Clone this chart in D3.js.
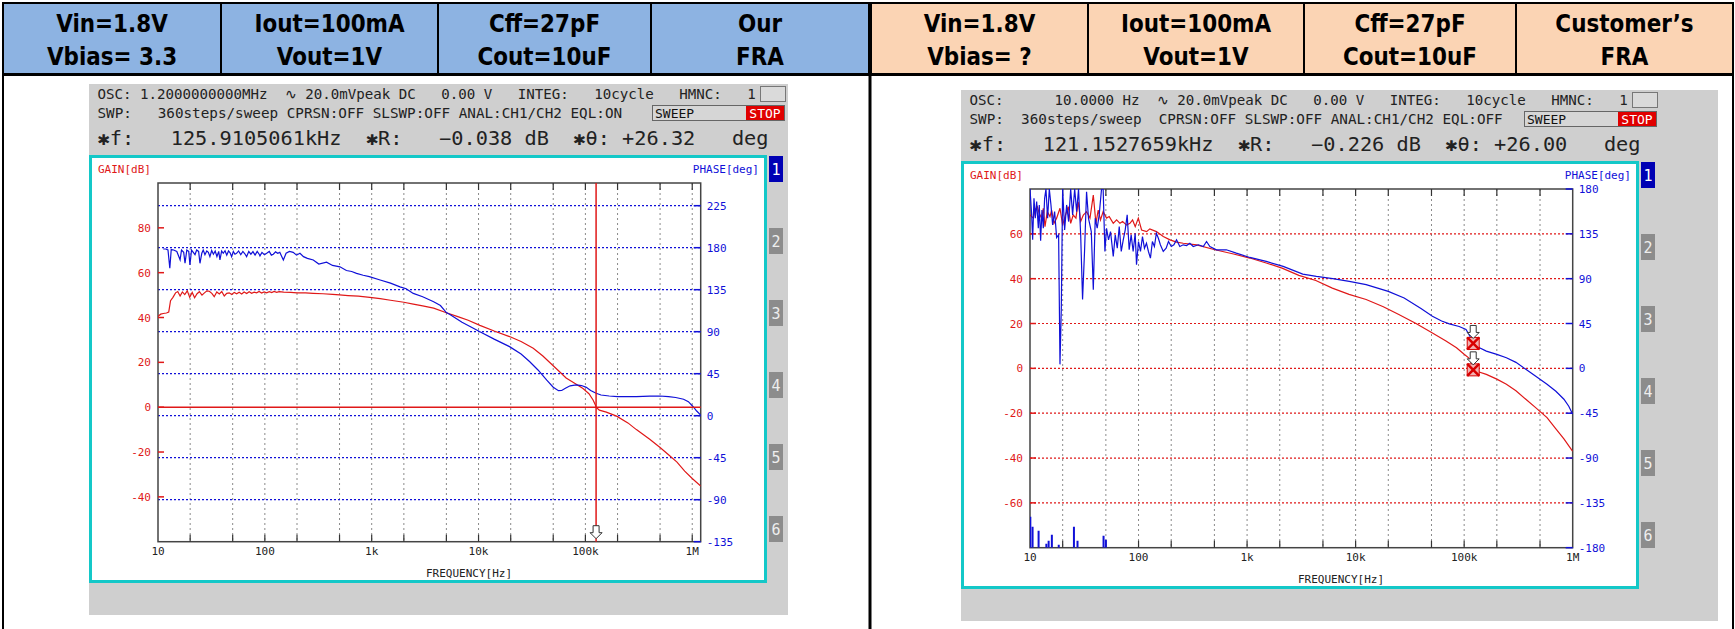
<!DOCTYPE html>
<html lang="en">
<head>
<meta charset="UTF-8" />
<title>FRA comparison</title>
<style>
  body { margin: 0; background: #fff; }
  svg { display: block; }
  text { font-family: "DejaVu Sans Mono", monospace; }
  .head { font-family: "DejaVu Sans", sans-serif; font-weight: bold; font-size: 25px; fill: #000; }
  .tick { font-size: 11px; }
</style>
</head>
<body>
<svg width="1735" height="629"></svg>
<script src="https://d3js.org/d3.v7.min.js"></script>
<script>
// ---------- header cells ----------
const ourHeader = [["Vin=1.8V", "Vbias= 3.3"], ["Iout=100mA", "Vout=1V"], ["Cff=27pF", "Cout=10uF"], ["Our", "FRA"]];
const custHeader = [["Vin=1.8V", "Vbias= ?"], ["Iout=100mA", "Vout=1V"], ["Cff=27pF", "Cout=10uF"], ["Customer’s", "FRA"]];

// ---------- analyser status lines ----------
const ourInfo = [
  "OSC: 1.2000000000MHz  ∿ 20.0mVpeak DC   0.00 V   INTEG:   10cycle   HMNC:   1",
  "SWP:   360steps/sweep CPRSN:OFF SLSWP:OFF ANAL:CH1/CH2 EQL:ON",
  "✱f:   125.9105061kHz  ✱R:   −0.038 dB  ✱θ: +26.32   deg"
];
const custInfo = [
  "OSC:      10.0000 Hz  ∿ 20.0mVpeak DC   0.00 V   INTEG:   10cycle   HMNC:   1",
  "SWP:  360steps/sweep  CPRSN:OFF SLSWP:OFF ANAL:CH1/CH2 EQL:OFF",
  "✱f:   121.1527659kHz  ✱R:   −0.226 dB  ✱θ: +26.00   deg"
];

// ---------- axis ticks ----------
const gridFreqs = [20, 50, 100, 200, 500, 1e3, 2e3, 5e3, 1e4, 2e4, 5e4, 1e5, 2e5, 5e5, 1e6];
const decadeFreqs = [10, 100, 1e3, 1e4, 1e5, 1e6];
const decadeLabels = ["10", "100", "1k", "10k", "100k", "1M"];
const ourGainTicks = [80, 60, 40, 20, 0, -20, -40];
const ourPhaseTicks = [225, 180, 135, 90, 45, 0, -45, -90, -135];
const custGainTicks = [60, 40, 20, 0, -20, -40, -60];
const custPhaseTicks = [180, 135, 90, 45, 0, -45, -90, -135, -180];

// ---------- our FRA: [Hz, dB] and [Hz, deg] ----------
const ourGain = [
  [10, 40.6], [10.6, 41.5], [11.2, 41.8], [12.0, 42.0], [12.6, 42.4], [13.1, 47.5], [13.8, 49.0], [14.6, 51.0],
  [15.3, 51.6], [16.1, 49.6], [16.9, 51.4], [17.8, 50.2], [18.8, 51.9], [19.8, 49.0], [20.9, 51.2], [22.0, 48.8],
  [23.2, 50.6], [24.4, 51.5], [25.8, 50.0], [27.2, 51.0], [28.7, 51.9], [30.2, 51.7], [31.9, 50.8], [33.6, 49.3],
  [35.5, 51.4], [37.5, 50.5], [39.5, 51.6], [41.7, 49.6], [44.0, 50.8], [46.4, 51.0], [49.0, 50.3], [51.7, 51.2],
  [54.5, 50.6], [57.5, 51.3], [60.7, 50.5], [64, 51.4], [67.6, 50.7], [71.3, 51.5], [75.2, 50.8], [79.4, 51.3],
  [83.8, 51.0], [88.4, 51.6], [93.3, 50.9], [98.4, 51.4], [104, 51.0], [110, 51.5], [116, 51.1], [122, 51.6],
  [129, 51.2], [136, 51.5], [150, 51.3], [175, 51.2], [200, 51.0], [240, 51.0], [283, 50.8], [350, 50.6],
  [430, 50.3], [500, 50.1], [600, 49.8], [750, 49.5], [960, 49.0], [1200, 48.4], [1500, 47.7], [2000, 46.8],
  [2450, 46.0], [3000, 45.2], [3800, 44.2], [5000, 42.1], [6500, 40.3], [8000, 38.8], [10300, 36.5], [14000, 34.0],
  [19500, 31.5], [25000, 29.3], [32500, 26.3], [40000, 22.8], [50000, 18.5], [58000, 15.6], [66000, 13.0],
  [80000, 10.6], [95000, 8.3], [108000, 6.0], [118000, 3.2], [124000, 1.0], [126000, 0.0], [135000, -1.3],
  [157000, -2.2], [196000, -4.0], [250000, -7.0], [300000, -10.0], [400000, -14.3], [500000, -18.0],
  [600000, -21.2], [720000, -24.5], [850000, -28.5], [1000000, -31.8], [1200000, -35.2]
];
const ourPhase = [
  [11.2, 178.6], [11.8, 178.6], [12.4, 177.5], [12.9, 158.0], [13.3, 178.0], [14.0, 177.5], [15.0, 176.0],
  [16.1, 167.0], [16.6, 177.5], [17.4, 175.0], [17.9, 163.3], [18.6, 177.5], [19.4, 176.0], [19.9, 161.5],
  [20.6, 177.5], [21.4, 175.0], [22.2, 172.5], [23.0, 177.5], [24.0, 176.0], [24.7, 163.3], [25.7, 174.0],
  [26.5, 177.5], [27.5, 172.5], [28.6, 176.5], [29.6, 175.0], [30.6, 170.4], [31.8, 177.0], [33.0, 173.0],
  [34.3, 176.5], [35.6, 170.5], [37.0, 176.0], [38.0, 166.8], [39.4, 176.5], [40.8, 174.0], [42.4, 176.8],
  [44.0, 172.0], [45.7, 176.5], [47.3, 174.5], [48.9, 170.4], [50.7, 176.0], [52.5, 173.0], [54.4, 174.0],
  [56.8, 176.5], [59.5, 172.5], [62.3, 176.0], [65.0, 173.5], [67.5, 170.4], [70.7, 176.0], [74.0, 173.0],
  [77.4, 175.8], [81.0, 172.0], [84.8, 176.0], [88.5, 173.0], [90.0, 171.2], [94, 175.0], [99, 172.5],
  [104, 174.0], [110, 176.0], [115, 172.0], [120, 173.0], [126, 175.5], [132, 174.0], [138, 175.0],
  [149, 166.8], [158, 174.0], [170, 176.0], [184, 175.0], [198, 172.0], [213, 174.0], [230, 170.4],
  [250, 168.5], [284, 166.8], [320, 162.5], [378, 164.5], [430, 161.0], [504, 159.5], [580, 155.5],
  [650, 154.5], [721, 152.5], [832, 150.5], [950, 149.0], [1200, 145.4], [1500, 142.0], [1840, 138.0],
  [2100, 136.0], [2450, 131.0], [3000, 127.5], [3800, 122.0], [4400, 118.0], [5000, 110.5], [5400, 108.5],
  [7000, 100.0], [8500, 95.0], [10300, 90.0], [14000, 82.0], [19500, 74.0], [25000, 66.0], [30000, 58.0],
  [36000, 49.0], [43500, 38.0], [50000, 30.5], [56000, 26.8], [60000, 27.0], [65000, 29.4], [72000, 32.0],
  [82000, 33.0], [92000, 32.3], [102000, 30.4], [112000, 27.0], [126000, 24.0], [140000, 22.2],
  [167000, 21.1], [200000, 20.5], [300000, 20.4], [400000, 21.0], [495000, 21.1], [600000, 20.5],
  [700000, 19.5], [830000, 17.6], [920000, 15.0], [1020000, 9.6], [1100000, 5.0], [1200000, 0.7]
];
const ourCursor = { f: 125910.5061, gain: -0.038, phase: 26.32 };

// ---------- customer's FRA ----------
const custGain = [
  [10, 68.4], [10.73, 67.0], [11.1, 70.6], [11.68, 72.1], [12.18, 69.1], [12.8, 67.0], [13.26, 71.4],
  [13.74, 63.2], [14.43, 69.9], [15.28, 67.7], [15.82, 70.6], [16.63, 64.7], [17.59, 67.0], [18.89, 71.4],
  [19.98, 63.9], [21.0, 67.7], [22.5, 72.1], [23.7, 64.7], [25.0, 68.4], [26.5, 67.0], [27.8, 74.3],
  [29.3, 65.5], [31.0, 68.4], [33.2, 69.9], [35.7, 67.0], [38.3, 77.3], [40.5, 64.7], [42.5, 70.6],
  [44.6, 66.2], [47.2, 69.9], [50.7, 67.0], [53.7, 67.7], [58.5, 64.7], [62.8, 66.2], [67.4, 64.7],
  [71.3, 65.5], [77.6, 63.9], [83.3, 64.7], [88.1, 66.2], [93.2, 63.2], [99.5, 67.0], [106.7, 61.7],
  [118.6, 61.0], [127, 62.2], [146, 61.0], [169, 58.8], [195, 57.3], [224, 56.3], [258, 55.8], [343, 55.1],
  [506, 52.9], [750, 51.0], [1060, 49.2], [1500, 47.0], [2100, 44.7], [3000, 41.5], [4300, 39.2],
  [6100, 35.8], [8700, 33.0], [12500, 30.7], [18000, 27.5], [25000, 24.0], [36000, 20.0], [51000, 15.8],
  [68000, 12.2], [85000, 9.2], [100000, 6.3], [110000, 4.7], [116000, 2.5], [121000, -0.2], [135000, -1.5],
  [160000, -2.7], [200000, -4.8], [245000, -7.1], [300000, -10.0], [370000, -13.8], [450000, -17.3],
  [580000, -22.0], [700000, -27.0], [830000, -31.5], [1000000, -37.0]
];
const custPhase = [
  [10.0, 180], [10.36, 154], [10.58, 129], [10.88, 170.6], [11.19, 150.6], [11.52, 167.3], [11.93, 140.6],
  [12.18, 164], [12.53, 128], [12.89, 159], [13.26, 140.6], [13.64, 170.6], [14.03, 180], [14.53, 150.6],
  [15.06, 180], [15.6, 164], [16.16, 144], [16.86, 157.3], [17.59, 131.3], [18.35, 134], [18.89, 4],
  [19.43, 60.6], [19.98, 180], [20.85, 139], [21.75, 164], [22.7, 147.3], [23.7, 180], [24.7, 154],
  [25.8, 180], [26.9, 157.3], [28.0, 180], [29.3, 134], [30.5, 69], [31.8, 117.3], [33.2, 177.3],
  [34.6, 150.6], [36.7, 137.3], [38.3, 79], [39.9, 150.6], [41.6, 140.6], [43.4, 154], [45.6, 180],
  [47.2, 180], [49.0, 117.3], [50.7, 140.6], [52.9, 129], [55.2, 137.3], [58.5, 112.3], [61.0, 134],
  [63.7, 120.6], [66.4, 142.3], [69.3, 117.3], [72.3, 129], [75.4, 139], [78.6, 154], [82.0, 119],
  [85.5, 134], [89.2, 117.3], [93.1, 135.6], [95.8, 104], [99.9, 127.3], [104.2, 117.3], [108.7, 132.3],
  [113.4, 120.6], [118.3, 125.6], [123.4, 117.3], [128.7, 110.6], [134.2, 127.3], [140, 122.3],
  [146, 135.6], [152.3, 130.6], [158.9, 124], [168.9, 117.3], [179.6, 120.6], [188.8, 127.3],
  [200.2, 122.3], [211.7, 124], [223.9, 129], [240, 122.3], [258, 124], [277, 123.3], [297, 125.6],
  [319, 122.3], [356, 124], [395, 122.3], [423, 127.3], [454, 122.3], [522, 119], [644, 119], [795, 115.6],
  [1060, 111.3], [1500, 107.3], [2150, 102.3], [3260, 94.6], [4350, 92.3], [6160, 90], [8740, 87.3],
  [12500, 84], [20000, 77.3], [28000, 70.6], [40000, 60], [51000, 52.3], [62000, 47.5], [73000, 44.6],
  [90000, 42], [104000, 39], [112000, 33], [121000, 26], [140000, 20.5], [160000, 17.3], [200000, 14],
  [245000, 10.6], [300000, 6], [370000, -1], [450000, -7.5], [580000, -16], [700000, -23], [830000, -31],
  [920000, -38], [1000000, -46]
];
// wrapped phase samples that show up as short bars above -180 deg
const custPhaseWrap = [
  [10.07, -149], [10.56, -159], [12.0, -163], [14.15, -176], [14.85, -173], [15.9, -167],
  [18.4, -177], [25.4, -159], [27.4, -173], [47.6, -168], [50.0, -172]
];
const custCursor = { f: 121152.7659, gain: -0.226, phase: 26.0 };

const RED = "#e01818", BLUE = "#1010d8";
const svg = d3.select("svg");

// ---------- table ----------
function drawHeader(cells, edges, fill) {
  cells.forEach((c, i) => {
    const x0 = edges[i], x1 = edges[i + 1];
    svg.append("rect").attr("x", x0).attr("y", 3).attr("width", x1 - x0).attr("height", 71)
      .attr("fill", fill).attr("stroke", "#000").attr("stroke-width", 2);
    c.forEach((t, j) => {
      svg.append("text").attr("class", "head")
        .attr("transform", `translate(${(x0 + x1) / 2},${j ? 65 : 32}) scale(0.86,1)`)
        .attr("text-anchor", "middle").text(t);
    });
  });
}
drawHeader(ourHeader, [3, 221, 438, 651, 869], "#8db3e2");
drawHeader(custHeader, [871, 1088, 1304, 1516, 1733], "#fbd4b4");
svg.append("line").attr("x1", 3).attr("x2", 1733).attr("y1", 74.5).attr("y2", 74.5).attr("stroke", "#000").attr("stroke-width", 3);
[3, 870, 1733].forEach(x => {
  svg.append("line").attr("x1", x).attr("x2", x).attr("y1", 3).attr("y2", 629)
    .attr("stroke", "#000").attr("stroke-width", x === 870 ? 3 : 2);
});

// ---------- one analyser screen ----------
function downArrow(g, cx, tipY) {
  g.append("path")
    .attr("d", `M${cx - 3},${tipY - 14}h6v7h3l-6,6l-6,-6h3z`)
    .attr("fill", "#fff").attr("stroke", "#333").attr("stroke-width", 1);
}

function drawPanel(cfg) {
  const g = svg.append("g").attr("transform", `translate(${cfg.ox},${cfg.oy})`);
  g.append("rect").attr("width", cfg.w).attr("height", 531).attr("fill", "#cfcfcf");

  const rows = [{ y: 15, size: 14, cw: 8.55 }, { y: 33.5, size: 14, cw: 8.6 }, { y: 60.5, size: 19, cw: 12.2 }];
  cfg.info.forEach((t, i) => {
    g.append("text").attr("x", 8.5).attr("y", rows[i].y)
      .attr("font-size", rows[i].size)
      .attr("textLength", t.length * rows[i].cw).attr("lengthAdjust", "spacingAndGlyphs")
      .attr("xml:space", "preserve").style("white-space", "pre")
      .attr("fill", "#222").text(t);
  });
  // HMNC box, SWEEP / STOP box
  g.append("rect").attr("x", 671.5).attr("y", 2.5).attr("width", 25).attr("height", 15)
    .attr("fill", "#dadada").attr("stroke", "#777");
  g.append("rect").attr("x", 563.5).attr("y", 21.5).attr("width", 132).attr("height", 15)
    .attr("fill", "#d6d6d6").attr("stroke", "#666");
  g.append("text").attr("x", 566).attr("y", 33.5).attr("font-size", 13).attr("fill", "#111").text("SWEEP");
  g.append("rect").attr("x", 657).attr("y", 22).attr("width", 38).attr("height", 14).attr("fill", "#e00000");
  g.append("text").attr("x", 676).attr("y", 33.5).attr("font-size", 13).attr("text-anchor", "middle")
    .attr("fill", "#fff").text("STOP");

  // cyan frame + tabs
  g.append("rect").attr("x", 1.5).attr("y", 72.5).attr("width", 675).attr("height", 425)
    .attr("fill", "#fff").attr("stroke", "#14c8c8").attr("stroke-width", 3);
  d3.range(6).forEach(i => {
    g.append("rect").attr("x", 680).attr("y", 72 + 72 * i).attr("width", 14).attr("height", 26)
      .attr("fill", i === 0 ? "#0000b4" : "#8c8c8c");
    g.append("text").attr("x", 687).attr("y", 91 + 72 * i).attr("text-anchor", "middle")
      .attr("font-family", "DejaVu Sans").attr("font-size", 15).attr("fill", i === 0 ? "#fff" : "#eee")
      .text(i + 1);
  });

  const px = 69, py = 99, pw = 542.7, ph = 358.7;
  const x = d3.scaleLog().domain([10, cfg.xMax]).range([px, px + pw]);
  const yG = d3.scaleLinear().domain(cfg.gainDomain).range([py + ph, py]);
  const yP = d3.scaleLinear().domain(cfg.phaseDomain).range([py + ph, py]);

  // vertical grid
  const vf = gridFreqs.filter(f => f < cfg.xMax * 0.999);
  g.append("g").selectAll("line").data(vf).join("line")
    .attr("x1", d => x(d)).attr("x2", d => x(d)).attr("y1", py).attr("y2", py + ph)
    .attr("stroke", "#8a8a8a").attr("stroke-dasharray", "2,3");
  // horizontal grid
  const hy = cfg.gridBy === "phase" ? yP : yG;
  g.append("g").selectAll("line").data(cfg.gridTicks).join("line")
    .attr("x1", px).attr("x2", px + pw).attr("y1", d => hy(d)).attr("y2", d => hy(d))
    .attr("stroke", cfg.gridBy === "phase" ? BLUE : RED).attr("stroke-width", 1.2)
    .attr("stroke-dasharray", "2,2");

  // frame
  g.append("rect").attr("x", px).attr("y", py).attr("width", pw).attr("height", ph)
    .attr("fill", "none").attr("stroke", "#444").attr("stroke-width", 1.5);
  // top / bottom ticks
  vf.forEach(f => {
    g.append("line").attr("x1", x(f)).attr("x2", x(f)).attr("y1", py).attr("y2", py + 7).attr("stroke", "#333").attr("stroke-width", 1.2);
    g.append("line").attr("x1", x(f)).attr("x2", x(f)).attr("y1", py + ph).attr("y2", py + ph - 7).attr("stroke", "#333").attr("stroke-width", 1.2);
  });
  // gain ticks on left, phase ticks on right
  cfg.gainTicks.forEach(v => {
    g.append("line").attr("x1", px).attr("x2", px + 6).attr("y1", yG(v)).attr("y2", yG(v)).attr("stroke", RED).attr("stroke-width", 1.5);
    g.append("text").attr("class", "tick").attr("x", px - 7).attr("y", yG(v) + 4)
      .attr("text-anchor", "end").attr("fill", RED).text(v);
  });
  cfg.phaseTicks.forEach(v => {
    g.append("line").attr("x1", px + pw - 7).attr("x2", px + pw).attr("y1", yP(v)).attr("y2", yP(v)).attr("stroke", BLUE).attr("stroke-width", 1.5);
    g.append("text").attr("class", "tick").attr("x", px + pw + 6).attr("y", yP(v) + 4)
      .attr("fill", BLUE).text(v);
  });
  decadeFreqs.forEach((f, i) => {
    g.append("text").attr("class", "tick").attr("x", x(f)).attr("y", 470.5)
      .attr("text-anchor", "middle").attr("fill", "#222").text(decadeLabels[i]);
  });
  g.append("text").attr("class", "tick").attr("x", 380).attr("y", 492.5).attr("text-anchor", "middle")
    .attr("fill", "#222").text("FREQUENCY[Hz]");
  g.append("text").attr("class", "tick").attr("x", 9).attr("y", 89).attr("fill", RED).text("GAIN[dB]");
  g.append("text").attr("class", "tick").attr("x", 670).attr("y", 89).attr("text-anchor", "end")
    .attr("fill", BLUE).text("PHASE[deg]");

  // curves
  const clipId = "clip" + cfg.ox;
  g.append("clipPath").attr("id", clipId).append("rect")
    .attr("x", px).attr("y", py).attr("width", pw).attr("height", ph);
  const plot = g.append("g").attr("clip-path", `url(#${clipId})`);
  if (cfg.wrap) {
    plot.selectAll("line.wrap").data(cfg.wrap).join("line").attr("class", "wrap")
      .attr("x1", d => x(d[0])).attr("x2", d => x(d[0]))
      .attr("y1", yP(-180)).attr("y2", d => yP(d[1]))
      .attr("stroke", BLUE).attr("stroke-width", 2);
  }
  plot.append("path").datum(cfg.gain)
    .attr("d", d3.line().x(d => x(d[0])).y(d => yG(d[1])))
    .attr("fill", "none").attr("stroke", RED).attr("stroke-width", 1.2);
  plot.append("path").datum(cfg.phase)
    .attr("d", d3.line().x(d => x(d[0])).y(d => yP(d[1])))
    .attr("fill", "none").attr("stroke", BLUE).attr("stroke-width", 1.2);

  const c = cfg.cursor, cx = x(c.f);
  if (cfg.cursorLines) {
    g.append("line").attr("x1", cx).attr("x2", cx).attr("y1", py).attr("y2", py + ph).attr("stroke", RED).attr("stroke-width", 1.5);
    g.append("line").attr("x1", px).attr("x2", px + pw).attr("y1", yG(c.gain)).attr("y2", yG(c.gain)).attr("stroke", RED).attr("stroke-width", 1.5);
    downArrow(g, cx, py + ph - 2);
  } else {
    [yP(c.phase), yG(c.gain)].forEach(cy => {
      g.append("rect").attr("x", cx - 6).attr("y", cy - 5).attr("width", 12).attr("height", 12)
        .attr("fill", "#f3b0b0").attr("stroke", "#d80000");
      g.append("path").attr("d", `M${cx - 6},${cy - 5}L${cx + 6},${cy + 7}M${cx + 6},${cy - 5}L${cx - 6},${cy + 7}`)
        .attr("stroke", "#d80000").attr("stroke-width", 2.5);
      downArrow(g, cx, cy - 3);
    });
  }
}

drawPanel({
  ox: 89, oy: 84, w: 699, info: ourInfo, xMax: 1.2e6,
  gainDomain: [-60, 100], phaseDomain: [-135, 249.3],
  gridBy: "phase", gridTicks: ourPhaseTicks.filter(v => v > -135),
  gainTicks: ourGainTicks, phaseTicks: ourPhaseTicks,
  gain: ourGain, phase: ourPhase, cursor: ourCursor, cursorLines: true
});
drawPanel({
  ox: 961, oy: 90, w: 757, info: custInfo, xMax: 1e6,
  gainDomain: [-80, 80], phaseDomain: [-180, 180],
  gridBy: "gain", gridTicks: custGainTicks,
  gainTicks: custGainTicks, phaseTicks: custPhaseTicks,
  gain: custGain, phase: custPhase, wrap: custPhaseWrap, cursor: custCursor, cursorLines: false
});
</script>
</body>
</html>
